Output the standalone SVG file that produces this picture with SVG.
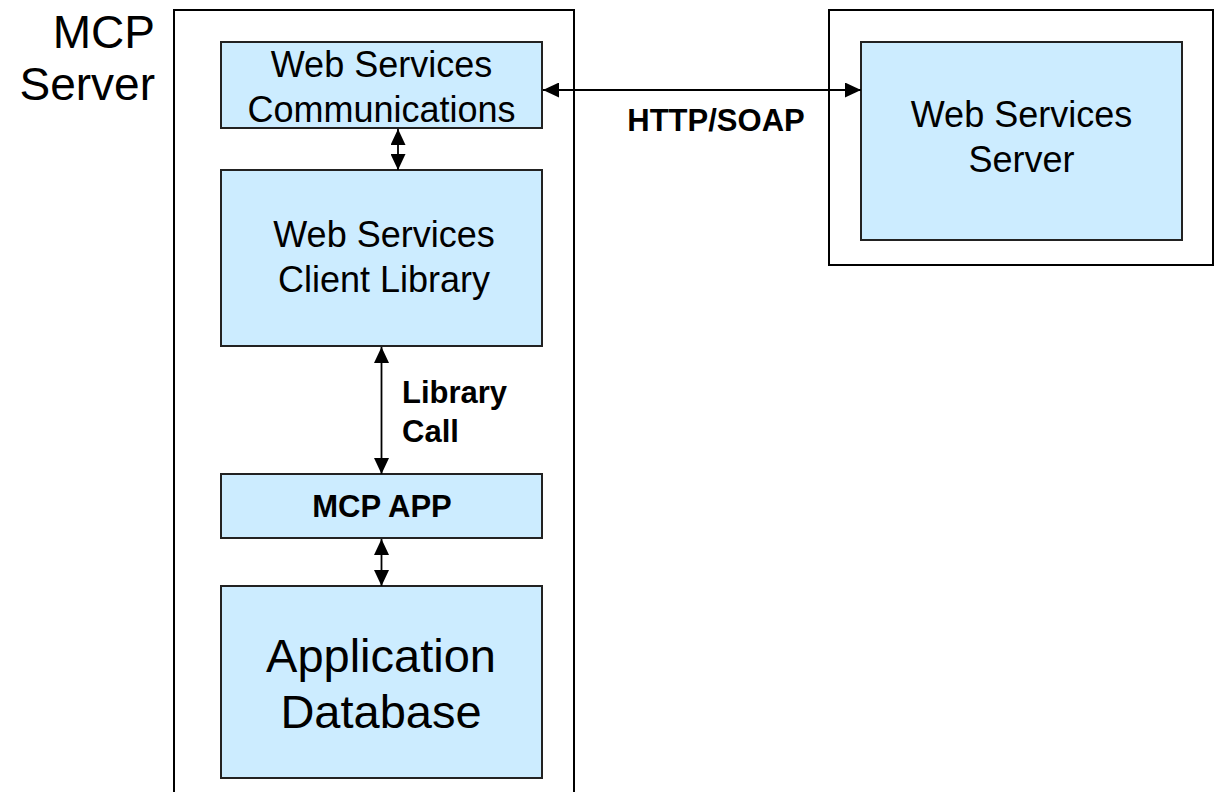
<svg xmlns="http://www.w3.org/2000/svg" width="1215" height="792" viewBox="0 0 1215 792">
<style>
.frame{fill:#ffffff;stroke:#000000;stroke-width:2}
.box{fill:#CCECFF;stroke:#222222;stroke-width:2}
.t{font-family:"Liberation Sans",Arial,sans-serif;fill:#000000;text-anchor:middle}
.b{font-weight:bold}
.c{stroke:#000000;stroke-width:1.8;fill:none;marker-start:url(#ah);marker-end:url(#ah)}
</style>
<defs>
<marker id="ah" viewBox="0 0 16 15" refX="16" refY="7.5" markerWidth="16" markerHeight="15" markerUnits="userSpaceOnUse" orient="auto-start-reverse">
<path d="M0,0 L16,7.5 L0,15 z" fill="#000000"/>
</marker>
</defs>
<rect width="1215" height="792" fill="#ffffff"/>
<g id="mcp-server">
<rect class="frame" x="174" y="10" width="400" height="800"/>
<text class="t" x="155" y="48" font-size="46" style="text-anchor:end">MCP</text>
<text class="t" x="155" y="100" font-size="46" style="text-anchor:end">Server</text>
</g>
<g id="ws-server-frame">
<rect class="frame" x="829" y="10" width="384" height="255"/>
</g>
<g id="ws-comm">
<rect class="box" x="221" y="42" width="321" height="86"/>
<text class="t" x="381.5" y="77" font-size="36">Web Services</text>
<text class="t" x="381.5" y="121.5" font-size="36">Communications</text>
</g>
<g id="ws-client">
<rect class="box" x="221" y="170" width="321" height="176"/>
<text class="t" x="384" y="247" font-size="36">Web Services</text>
<text class="t" x="384" y="291.5" font-size="36">Client Library</text>
</g>
<g id="mcp-app">
<rect class="box" x="221" y="474" width="321" height="64"/>
<text class="t b" x="382" y="517" font-size="31">MCP APP</text>
</g>
<g id="app-db">
<rect class="box" x="221" y="586" width="321" height="192"/>
<text class="t" x="381" y="671.5" font-size="47">Application</text>
<text class="t" x="381" y="728" font-size="47">Database</text>
</g>
<g id="ws-server">
<rect class="box" x="861" y="42" width="321" height="198"/>
<text class="t" x="1021.5" y="127" font-size="36">Web Services</text>
<text class="t" x="1021.5" y="171.5" font-size="36">Server</text>
</g>
<g id="connectors">
<line class="c" x1="543" y1="90" x2="861" y2="90"/>
<line class="c" x1="398" y1="129" x2="398" y2="170"/>
<line class="c" x1="381.5" y1="347" x2="381.5" y2="474"/>
<line class="c" x1="381.5" y1="539" x2="381.5" y2="586"/>
</g>
<g id="labels">
<text class="t b" x="716" y="130.5" font-size="31">HTTP/SOAP</text>
<text class="t b" x="402" y="403" font-size="31" style="text-anchor:start">Library</text>
<text class="t b" x="402" y="442" font-size="31" style="text-anchor:start">Call</text>
</g>
</svg>
